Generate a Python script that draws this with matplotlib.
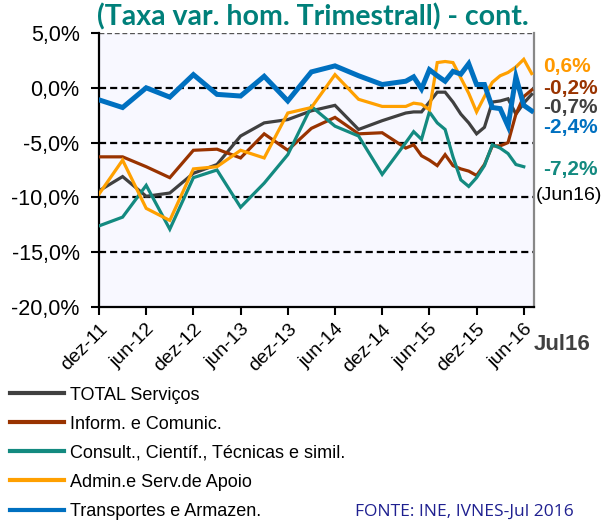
import matplotlib
matplotlib.use('Agg')
import matplotlib.pyplot as plt
import matplotlib.transforms as mtransforms

plt.rcParams['font.family'] = ['Liberation Sans', 'DejaVu Sans']

# meses contados a partir de dez-11 (trimestral ate mar-15, mensal depois)
meses = [0, 3, 6, 9, 12, 15, 18, 21, 24, 27, 30, 33, 36, 39,
         40, 41, 42, 43, 44, 45, 46, 47, 48, 49, 50, 51, 52, 53, 54, 55]

total_servicos = [-9.4, -8.1, -9.9, -9.6, -7.8, -7.0, -4.4, -3.2, -2.9, -2.1, -1.6, -3.8, -3.0, -2.3,
                  -2.2, -2.2, -1.3, -0.4, -0.4, -1.3, -2.4, -3.2, -4.2, -3.6, -1.3, -1.2, -1.0, -2.4, -1.4, -0.6]
inform_comunic = [-6.3, -6.3, -7.2, -8.2, -5.7, -5.6, -6.4, -4.2, -5.7, -3.7, -2.7, -4.2, -4.1, -5.5,
                  -5.2, -6.2, -6.6, -7.1, -6.1, -7.1, -7.4, -7.6, -8.0, -7.0, -5.3, -5.3, -5.0, -2.4, -0.8, -0.2]
consultoria = [-12.6, -11.8, -8.9, -12.9, -8.2, -7.5, -10.9, -8.7, -6.1, -1.7, -3.5, -4.4, -7.9, -5.0,
               -4.0, -4.7, -2.2, -3.2, -3.8, -6.3, -8.4, -9.0, -8.2, -7.1, -5.2, -5.5, -6.0, -7.0, -7.2]
admin_apoio = [-9.7, -6.6, -11.0, -12.1, -7.4, -7.2, -5.7, -6.4, -2.3, -1.8, 1.2, -1.05, -1.7, -1.7,
               -1.4, -1.5, -2.0, 2.3, 2.4, 2.3, 0.9, -0.5, -2.2, -0.8, 0.5, 1.1, 1.4, 1.9, 2.6, 1.3]
transportes = [-1.1, -1.8, 0.0, -0.85, 1.2, -0.6, -0.75, 1.05, -1.2, 1.45, 2.0, 1.1, 0.3, 0.6,
               1.0, -0.1, 1.65, 1.1, 0.6, 1.5, 1.25, 2.2, 0.3, 0.3, -1.8, -1.9, -3.5, 1.0, -1.6, -2.1]

nomes = ['TOTAL Serviços', 'Inform. e Comunic.', 'Consult., Científ., Técnicas e simil.',
         'Admin.e Serv.de Apoio', 'Transportes e Armazen.']
cores = ['#404040', '#993300', '#138A80', '#FFA000', '#0070C0']

tick_meses = [0, 6, 12, 18, 24, 30, 36, 42, 48, 54]
tick_labels = ['dez-11', 'jun-12', 'dez-12', 'jun-13', 'dez-13', 'jun-14',
               'dez-14', 'jun-15', 'dez-15', 'jun-16']

ultimos = ['0,6%', '-0,2%', '-0,7%', '-2,4%', '-7,2%']
ultimos_cores = ['#FF9900', '#993300', '#404040', '#0070C0', '#138A80']
ultimos_y = [1.9, -0.1, -1.8, -3.6, -7.5]

fig = plt.figure(figsize=(6.07, 5.21), dpi=100)
ax = fig.add_axes([99/607, 1-307/521, 435/607, 274/521])
ax.set_facecolor('#F8F8FF')

series = [total_servicos, inform_comunic, consultoria, admin_apoio, transportes]
linhas = []
for i, s in enumerate(series):
    lw = 3.6 if i == 4 else 2.3
    l, = ax.plot(meses[:len(s)], s, color=cores[i], lw=lw, label=nomes[i], zorder=3+i,
                 solid_joinstyle='miter')
    linhas.append(l)

for y in [0, -5, -10, -15]:
    ax.axhline(y, color='black', lw=1.6, ls=(0, (3.2, 1.8)), zorder=2)
ax.axhline(5, color='#555555', lw=1.0, ls=(0, (3.5, 2)), zorder=2)

ax.set_ylim(-20, 5)
ax.set_xlim(0, 55.3)
ax.set_yticks([5, 0, -5, -10, -15, -20])
ax.set_yticklabels([('%.1f%%' % v).replace('.', ',') for v in [5, 0, -5, -10, -15, -20]], fontsize=15.5)
ax.set_xticks(tick_meses)
ax.set_xticklabels(tick_labels, fontsize=14, rotation=45, ha='right', rotation_mode='anchor')
ax.tick_params(axis='both', direction='out', length=6, width=1.5, color='black')
ax.tick_params(axis='y', pad=8)
ax.tick_params(axis='x', pad=4)

ax.spines['top'].set_visible(False)
ax.spines['left'].set_linewidth(1.6)
ax.spines['bottom'].set_linewidth(1.6)
ax.spines['right'].set_color('#888888')
ax.spines['right'].set_linewidth(1.6)

# valores finais a direita
trans = mtransforms.blended_transform_factory(ax.transAxes, ax.transData)
for txt, c, y in zip(ultimos, ultimos_cores, ultimos_y):
    ax.text(1.02, y, txt, color=c, fontsize=15, fontweight='bold', va='center', ha='left',
            transform=trans)
ax.text(1.004, -9.8, '(Jun16)', color='black', fontsize=14, va='center', ha='left', transform=trans)

fig.text(534/607, 1-344/521, 'Jul16', color='#404040', fontsize=16, fontweight='bold',
         va='center', ha='left')

fig.text(313/607, 1-25/521, '(Taxa var. hom. Trimestrall) - cont.', color='#00807A',
         fontsize=20.5, fontweight='bold', ha='center', va='baseline', family=['Lato', 'DejaVu Sans'])

leg = fig.legend(handles=linhas, loc='upper left', bbox_to_anchor=(10/607, 1-386.5/521),
                 frameon=False, fontsize=13, handlelength=3.0, handletextpad=0.35,
                 labelspacing=0.67, borderpad=0, borderaxespad=0)
for h in leg.get_lines():
    h.set_linewidth(3)

fig.text(355/607, 1-512/521, 'FONTE: INE, IVNES-Jul 2016', color='#1F2090', fontsize=12.5,
         va='center', ha='left', family=['Open Sans', 'DejaVu Sans'])

fig.savefig('out.png', dpi=100)
